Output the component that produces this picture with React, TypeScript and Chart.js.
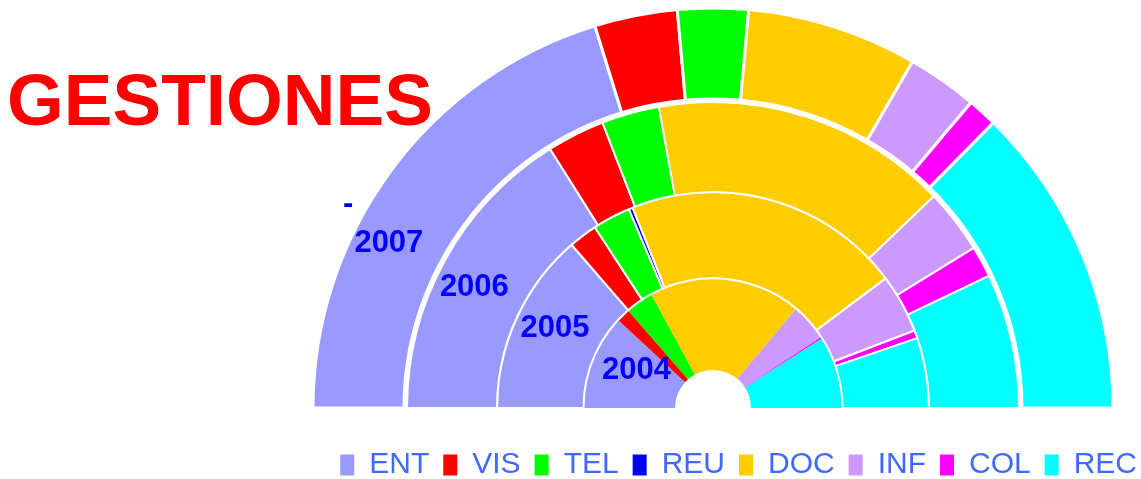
import React, { useEffect, useRef } from 'react';
import { Chart, registerables } from 'chart.js';

Chart.register(...registerables);

const categories = ['ENT', 'VIS', 'TEL', 'REU', 'DOC', 'INF', 'COL', 'REC'];
const sliceColors = ['#9999ff', '#ff0000', '#00ff00', '#0000ff', '#ffcc00', '#cc99ff', '#ff00ff', '#00ffff'];

const yearLabels = ['2007', '2006', '2005', '2004'];
const values2007 = [40.5, 6.7, 5.7, 0, 13.8, 5.7, 2.4, 25.3];
const values2006 = [32.1, 6.1, 6.1, 0, 31.3, 6.8, 3.3, 14.2];
const values2005 = [27.3, 4.3, 5.7, 0.6, 41.7, 8.8, 1.2, 10.5];
const values2004 = [23.8, 3.4, 7.0, 0, 38.0, 9.3, 0.4, 18.1];

const chartTitle = 'GESTIONES';
const outerNote = '-';

const FONT = '"Liberation Sans", Arial, sans-serif';
const TOP_SHIFT = 20;

export default function App() {
  const canvasRef = useRef<HTMLCanvasElement | null>(null);

  useEffect(() => {
    const canvas = canvasRef.current;
    if (!canvas) return;

    const labelPlugin = {
      id: 'ringLabels',
      afterDatasetsDraw(chart: any) {
        const c = chart.ctx as CanvasRenderingContext2D;
        c.save();
        // title
        c.font = `bold 73px ${FONT}`;
        c.fillStyle = '#ff0000';
        c.textAlign = 'left';
        c.textBaseline = 'alphabetic';
        c.fillText(chartTitle, 7, 125 + TOP_SHIFT);

        // year labels on each ring
        c.font = `bold 31px ${FONT}`;
        c.fillStyle = '#0000ff';
        c.textAlign = 'center';
        c.textBaseline = 'middle';
        const ang = ((180 - 27.2) * Math.PI) / 180;
        chart.data.datasets.forEach((ds: any, i: number) => {
          if (!yearLabels.includes(ds.label)) return;
          const meta = chart.getDatasetMeta(i);
          const arc: any = meta.data[0];
          if (!arc) return;
          const r = ((arc.innerRadius + arc.outerRadius) / 2) * 1.028;
          c.fillText(ds.label, arc.x + r * Math.cos(ang), arc.y - r * Math.sin(ang) + 2);
        });

        // note outside the outer ring
        const outerMeta = chart.getDatasetMeta(0);
        const oa: any = outerMeta.data[0];
        if (oa) {
          const a2 = ((180 - 29.2) * Math.PI) / 180;
          const r2 = oa.outerRadius * 1.045;
          c.fillText(outerNote, oa.x + r2 * Math.cos(a2), oa.y - r2 * Math.sin(a2));
        }
        c.restore();
      },
    };

    const chart = new Chart(canvas, {
      type: 'doughnut',
      data: {
        labels: categories,
        datasets: [
          { label: yearLabels[0], data: values2007, backgroundColor: sliceColors, borderColor: '#ffffff', borderWidth: 3, weight: 91 },
          { label: '', data: [1], backgroundColor: 'rgba(0,0,0,0)', borderWidth: 0, weight: 3 },
          { label: yearLabels[1], data: values2006, backgroundColor: sliceColors, borderColor: '#ffffff', borderWidth: 2, weight: 90 },
          { label: yearLabels[2], data: values2005, backgroundColor: sliceColors, borderColor: '#ffffff', borderWidth: 2, weight: 86.5 },
          { label: yearLabels[3], data: values2004, backgroundColor: sliceColors, borderColor: '#ffffff', borderWidth: 0, weight: 91.5 },
        ] as any,
      },
      options: {
        responsive: false,
        animation: false,
        events: [],
        rotation: -90,
        circumference: 180,
        radius: 400,
        cutout: '9.5%',
        layout: { padding: { left: 285, right: -10, top: 0, bottom: -11 } },
        plugins: {
          tooltip: { enabled: false },
          title: { display: false },
          legend: {
            display: true,
            position: 'bottom',
            align: 'end',
            labels: {
              color: '#4169ff',
              font: { family: FONT, size: 30 },
              boxWidth: 14,
              boxHeight: 21,
              padding: 14,
              generateLabels: (ch: any) => {
                const base = (Chart as any).overrides.doughnut.plugins.legend.labels.generateLabels(ch);
                return base.map((it: any) => ({ ...it, lineWidth: 0 }));
              },
            },
          },
        },
      } as any,
      plugins: [labelPlugin],
    });

    return () => chart.destroy();
  }, []);

  return (
    <div style={{ position: 'fixed', left: 0, top: -TOP_SHIFT, width: 1141, height: 479 + TOP_SHIFT, background: '#ffffff' }}>
      <canvas ref={canvasRef} width={1141} height={479 + TOP_SHIFT} style={{ display: 'block' }} />
    </div>
  );
}
